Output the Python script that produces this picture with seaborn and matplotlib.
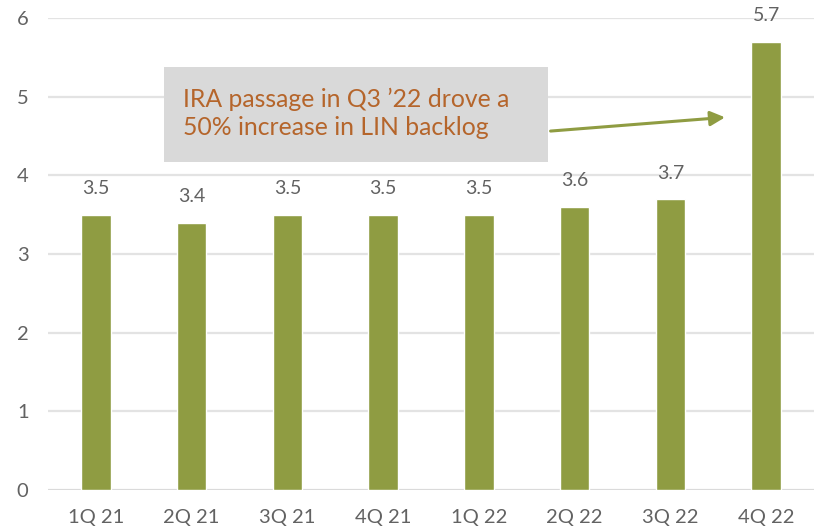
import pandas as pd
import matplotlib.pyplot as plt
import seaborn as sns

# --- data ---
quarters = ["1Q 21", "2Q 21", "3Q 21", "4Q 21", "1Q 22", "2Q 22", "3Q 22", "4Q 22"]
backlog = [3.5, 3.4, 3.5, 3.5, 3.5, 3.6, 3.7, 5.7]
note = "IRA passage in Q3 \u201922 drove a\n50% increase in LIN backlog"

df = pd.DataFrame({"quarter": quarters, "backlog": backlog})

sns.set_theme(style="white")
plt.rcParams["font.family"] = ["Lato", "DejaVu Sans"]

bar_color = "#8F9C42"
text_gray = "#626262"
grid_gray = "#E3E3E3"

fig = plt.figure(figsize=(8.17, 5.30), dpi=100)
ax = fig.add_axes([48 / 817, 40 / 530, 766 / 817, 472 / 530])

sns.barplot(data=df, x="quarter", y="backlog", color=bar_color, width=0.31,
            saturation=1, ax=ax, zorder=3)

ax.set_xlim(-0.5, len(quarters) - 0.5)
ax.set_ylim(0, 6)
ax.set_yticks(range(0, 7))
ax.yaxis.grid(True, color=grid_gray, linewidth=1.6, zorder=0)
ax.set_axisbelow(True)
for s in ["top", "right", "left", "bottom"]:
    ax.spines[s].set_visible(False)
ax.axhline(0, color="#D9D9D9", linewidth=2, zorder=2)

ax.set_xlabel("")
ax.set_ylabel("")
ax.tick_params(axis="both", length=0, labelsize=14.5, colors=text_gray)
ax.tick_params(axis="x", pad=14)
ax.tick_params(axis="y", pad=14)

# value labels
for i, v in enumerate(backlog):
    ax.text(i, v + 0.22, f"{v:.1f}", ha="center", va="bottom",
            fontsize=14, color=text_gray)

# annotation box + arrow
ax.add_patch(plt.Rectangle((0.71, 4.17), 4.01, 1.21, facecolor="#D9D9D9",
                           edgecolor="none", zorder=4))
ax.text(0.91, 4.79, note, ha="left", va="center", fontsize=17.8,
        color="#B5652B", linespacing=1.25, zorder=5)
ax.annotate("", xy=(6.6, 4.74), xytext=(4.72, 4.56),
            arrowprops=dict(arrowstyle="-|>", color=bar_color, lw=2.2,
                            mutation_scale=22), zorder=5)

plt.savefig("out.png", dpi=100)
plt.close()
